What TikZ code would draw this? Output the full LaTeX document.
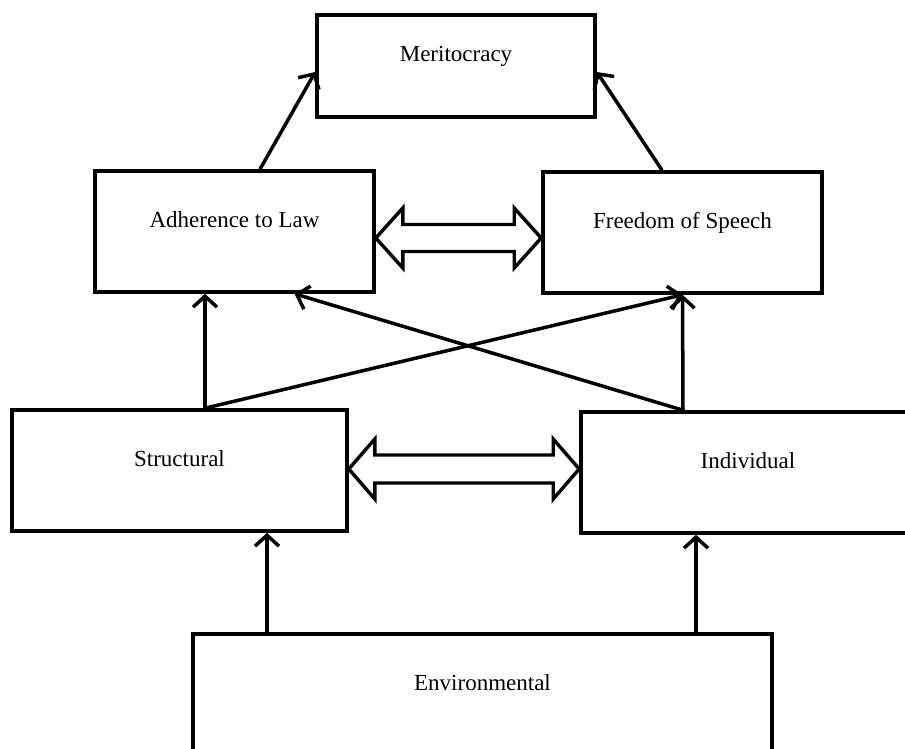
\documentclass[tikz,border=0pt]{standalone}
\usepackage{fontspec}
\setmainfont{Liberation Serif}
\usetikzlibrary{arrows.meta,calc}
\tikzset{
  box/.style={draw, line width=3.6pt, rectangle, inner sep=0pt,
    text height=18pt, text depth=26pt,
    font=\fontsize{23}{27}\selectfont},
  conn/.style={line width=3.5pt, -{Straight Barb[length=11pt,width=24pt]}},
  hollow/.style={draw, line width=3.4pt, fill=white, line join=miter}
}
\begin{document}
\begin{tikzpicture}[x=1pt,y=-1pt]
\useasboundingbox (0,0) rectangle (905,749);
\clip (0,0) rectangle (905,749);
% boxes
\node[box, minimum width=278pt, minimum height=102pt] (mer) at (456,66) {Meritocracy};
\node[box, minimum width=279pt, minimum height=121pt] (adh) at (234.5,231.5) {Adherence to Law};
\node[box, minimum width=279pt, minimum height=121pt] (fos) at (682.5,232.5) {Freedom of Speech};
\node[box, minimum width=335pt, minimum height=121pt] (str) at (179.5,470.5) {Structural};
\node[box, minimum width=334pt, minimum height=121pt] (ind) at (748,472.5) {Individual};
\node[box, minimum width=579pt, minimum height=121pt] (env) at (482.5,694.5) {Environmental};
% connectors
\draw[conn] ([xshift=25.5pt]adh.north) -- ([yshift=-6pt]mer.west);
\draw[conn] ([xshift=-20.5pt]fos.north) -- ([yshift=-6pt]mer.east);
\draw[conn] ([xshift=25.5pt]str.north) -- ([xshift=-29.5pt]adh.south);
\draw[conn] ([xshift=25.5pt]str.north) -- ([xshift=0pt]fos.south);
\draw[conn] ([xshift=-65pt]ind.north) -- ([xshift=0pt]fos.south);
\draw[conn] ([xshift=-65pt]ind.north) -- ([xshift=60pt]adh.south);
\draw[conn] ([xshift=-215.5pt]env.north) -- ([xshift=87.5pt]str.south);
\draw[conn] ([xshift=213.5pt]env.north) -- ([xshift=-52pt]ind.south);
% hollow double arrows
\coordinate (aL) at ([yshift=-6.5pt]adh.east);
\coordinate (aR) at ([yshift=-5.5pt]fos.west);
\draw[hollow] (aL) -- ([shift={(27,-30)}]aL) -- ([shift={(27,-13.5)}]aL)
  -- ([shift={(-27,-13.5)}]aR) -- ([shift={(-27,-30)}]aR) -- (aR)
  -- ([shift={(-27,30)}]aR) -- ([shift={(-27,13.5)}]aR)
  -- ([shift={(27,13.5)}]aL) -- ([shift={(27,30)}]aL) -- cycle;
\coordinate (bL) at ([yshift=1.5pt]str.east);
\coordinate (bR) at ([yshift=3.5pt]ind.west);
\draw[hollow] (bL) -- ([shift={(26,-30)}]bL) -- ([shift={(26,-14)}]bL)
  -- ([shift={(-26,-14)}]bR) -- ([shift={(-26,-30)}]bR) -- (bR)
  -- ([shift={(-26,30)}]bR) -- ([shift={(-26,14)}]bR)
  -- ([shift={(26,14)}]bL) -- ([shift={(26,30)}]bL) -- cycle;
\end{tikzpicture}
\end{document}
